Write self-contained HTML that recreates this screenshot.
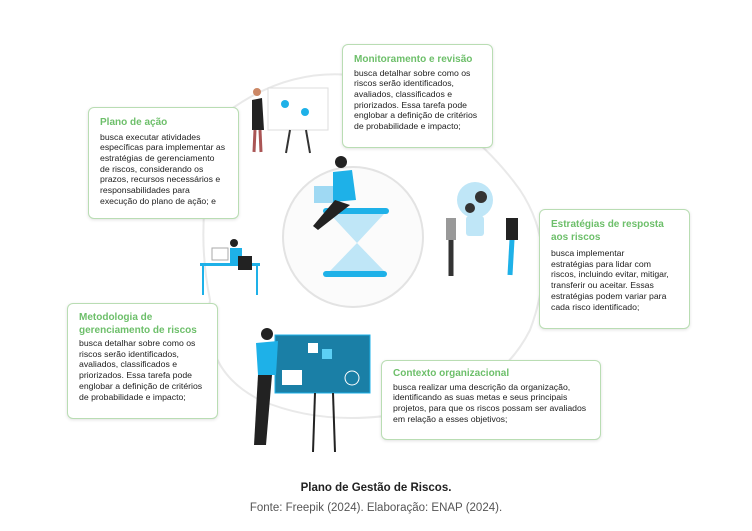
<!DOCTYPE html>
<html><head><meta charset="utf-8"><style>
body{margin:0;width:752px;height:531px;background:#fff;position:relative;overflow:hidden;font-family:"Liberation Sans",sans-serif}
.b{position:absolute;background:#fff;border:1px solid #b9ddb3;border-radius:6px;box-shadow:0 1px 3px rgba(0,0,0,.12);box-sizing:border-box;padding:8px 6px 8px 11px;font-size:8.7px;line-height:10.7px;color:#222;white-space:nowrap}
.b h{display:block;color:#6dbf6a;font-weight:bold;font-size:10px;line-height:12.5px;margin-bottom:1px}
.cap{position:absolute;left:0;width:752px;text-align:center;font-size:11.5px;color:#333}
</style></head><body>
<svg width="752" height="470" style="position:absolute;left:0;top:0">
<path d="M230 110 Q300 60 380 80 Q470 120 520 190 Q560 250 530 330 Q500 390 420 410 Q330 430 260 400 Q200 370 210 300 Q190 200 230 110Z" fill="#fff" stroke="#e9e9e9" stroke-width="2"/>
<circle cx="353" cy="237" r="70" fill="#fbfbfb" stroke="#e3e3e3" stroke-width="2"/>
<rect x="323" y="208" width="66" height="6" rx="3" fill="#1eb1e8"/>
<rect x="323" y="271" width="64" height="6" rx="3" fill="#1eb1e8"/>
<path d="M330 214 L384 214 L357 243 Z M357 243 L330 271 L384 271Z" fill="#bfe6f7"/>
<rect x="314" y="186" width="26" height="17" fill="#9fd9f3"/>
<circle cx="341" cy="162" r="6" fill="#222"/>
<path d="M333 172 L352 170 L356 200 L333 202Z" fill="#1eb1e8"/>
<path d="M335 200 L350 205 L318 230 L313 226Z" fill="#222"/>
<rect x="268" y="88" width="60" height="42" fill="#fff" stroke="#ddd"/>
<circle cx="285" cy="104" r="4" fill="#1eb1e8"/><circle cx="305" cy="112" r="4" fill="#1eb1e8"/>
<line x1="290" y1="130" x2="286" y2="153" stroke="#333" stroke-width="2"/><line x1="306" y1="130" x2="310" y2="153" stroke="#333" stroke-width="2"/>
<path d="M252 100 L262 98 L264 130 L252 130Z" fill="#222"/><circle cx="257" cy="92" r="4" fill="#c86"/>
<line x1="255" y1="130" x2="254" y2="152" stroke="#a55" stroke-width="3"/><line x1="260" y1="130" x2="261" y2="152" stroke="#a55" stroke-width="3"/>
<circle cx="475" cy="200" r="18" fill="#bfe6f7"/><rect x="466" y="216" width="18" height="20" rx="3" fill="#bfe6f7"/>
<circle cx="481" cy="197" r="6" fill="#333"/><circle cx="470" cy="208" r="5" fill="#333"/>
<line x1="451" y1="218" x2="451" y2="276" stroke="#333" stroke-width="5"/><rect x="446" y="218" width="10" height="22" fill="#999"/>
<line x1="513" y1="222" x2="510" y2="275" stroke="#1eb1e8" stroke-width="5"/><rect x="506" y="218" width="12" height="22" fill="#222"/>
<rect x="200" y="263" width="60" height="3" fill="#1eb1e8"/>
<line x1="203" y1="266" x2="203" y2="295" stroke="#1eb1e8" stroke-width="2"/><line x1="257" y1="266" x2="257" y2="295" stroke="#1eb1e8" stroke-width="2"/>
<rect x="212" y="248" width="16" height="12" fill="#fff" stroke="#aaa"/>
<rect x="230" y="248" width="12" height="18" fill="#1eb1e8"/><circle cx="234" cy="243" r="4" fill="#222"/>
<rect x="238" y="256" width="14" height="14" fill="#222"/>
<rect x="275" y="335" width="95" height="58" fill="#1a7fa6" stroke="#1eb1e8"/>
<rect x="308" y="343" width="10" height="10" fill="#fff"/><rect x="282" y="370" width="20" height="15" fill="#fff"/><rect x="322" y="349" width="10" height="10" fill="#5cd0f5"/>
<circle cx="352" cy="378" r="7" fill="none" stroke="#fff"/>
<line x1="315" y1="393" x2="313" y2="452" stroke="#222" stroke-width="2"/><line x1="333" y1="393" x2="335" y2="452" stroke="#222" stroke-width="2"/>
<circle cx="267" cy="334" r="6" fill="#222"/>
<path d="M256 343 L278 341 L276 375 L258 375Z" fill="#1eb1e8"/>
<path d="M258 375 L272 375 L266 445 L254 445Z" fill="#222"/>
</svg>
<div class="b" style="left:342px;top:44px;width:151px;height:104px;padding-top:9px"><h>Monitoramento e revisão</h>busca detalhar sobre como os<br>riscos serão identificados,<br>avaliados, classificados e<br>priorizados. Essa tarefa pode<br>englobar a definição de critérios<br>de probabilidade e impacto;</div>
<div class="b" style="left:88px;top:107px;width:151px;height:112px;padding-top:9px"><h style="margin-bottom:2px">Plano de ação</h>busca executar atividades<br>específicas para implementar as<br>estratégias de gerenciamento<br>de riscos, considerando os<br>prazos, recursos necessários e<br>responsabilidades para<br>execução do plano de ação; e</div>
<div class="b" style="left:539px;top:209px;width:151px;height:120px;padding-top:9px"><h style="margin-bottom:4px">Estratégias de resposta<br>aos riscos</h>busca implementar<br>estratégias para lidar com<br>riscos, incluindo evitar, mitigar,<br>transferir ou aceitar. Essas<br>estratégias podem variar para<br>cada risco identificado;</div>
<div class="b" style="left:67px;top:303px;width:151px;height:116px;padding-top:8px"><h>Metodologia de<br>gerenciamento de riscos</h>busca detalhar sobre como os<br>riscos serão identificados,<br>avaliados, classificados e<br>priorizados. Essa tarefa pode<br>englobar a definição de critérios<br>de probabilidade e impacto;</div>
<div class="b" style="left:381px;top:360px;width:220px;height:80px;padding-top:7px"><h>Contexto organizacional</h>busca realizar uma descrição da organização,<br>identificando as suas metas e seus principais<br>projetos, para que os riscos possam ser avaliados<br>em relação a esses objetivos;</div>
<div class="cap" style="top:482px;font-weight:bold;color:#222">Plano de Gestão de Riscos.</div>
<div class="cap" style="top:502px;color:#555">Fonte: Freepik (2024). Elaboração: ENAP (2024).</div>
</body></html>
